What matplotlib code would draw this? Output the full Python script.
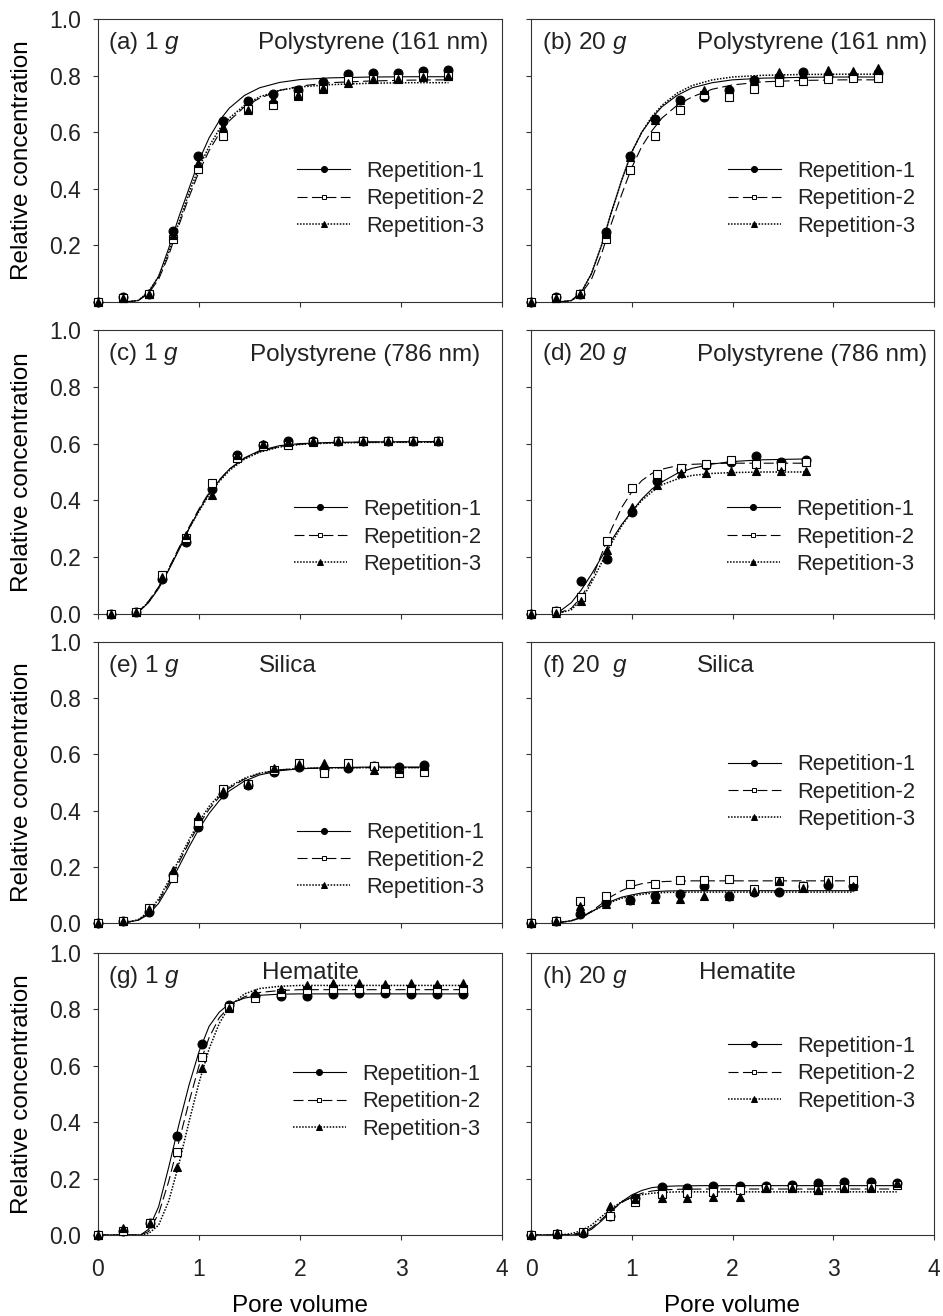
import matplotlib
matplotlib.use('Agg')
import matplotlib.pyplot as plt
from matplotlib.lines import Line2D

# ---- data (pore volume vs relative concentration) ----
# (a) 1 g, Polystyrene (161 nm)
a_pv = [0, 0.25, 0.5, 0.74, 0.99, 1.24, 1.49, 1.73, 1.98, 2.23, 2.48, 2.72, 2.97, 3.22, 3.47]
a_rep1 = [0, 0.018, 0.03, 0.25, 0.517, 0.641, 0.71, 0.736, 0.748, 0.779, 0.805, 0.808, 0.808, 0.817, 0.819]
a_rep2 = [0, 0.015, 0.03, 0.221, 0.47, 0.588, 0.683, 0.695, 0.728, 0.752, 0.783, 0.787, 0.793, 0.80, 0.80]
a_rep3 = [0, 0.015, 0.03, 0.237, 0.491, 0.618, 0.68, 0.716, 0.73, 0.757, 0.773, 0.787, 0.787, 0.796, 0.80]
a_fit_pv = [0.27, 0.4, 0.5, 0.6, 0.7, 0.8, 0.9, 1.0, 1.1, 1.2, 1.3, 1.45, 1.6, 1.8, 2.0, 2.3, 2.7, 3.1, 3.47]
a_fit1 = [0, 0.005, 0.035, 0.09, 0.19, 0.30, 0.40, 0.50, 0.58, 0.64, 0.685, 0.73, 0.757, 0.776, 0.786, 0.792, 0.795, 0.796, 0.796]
a_fit2 = [0, 0.005, 0.03, 0.08, 0.165, 0.27, 0.37, 0.46, 0.535, 0.595, 0.64, 0.69, 0.72, 0.748, 0.763, 0.775, 0.781, 0.784, 0.785]
a_fit3 = [0, 0.006, 0.035, 0.09, 0.175, 0.28, 0.385, 0.475, 0.55, 0.61, 0.65, 0.695, 0.725, 0.748, 0.76, 0.768, 0.773, 0.775, 0.775]

# (b) 20 g, Polystyrene (161 nm)
b_pv = [0, 0.25, 0.49, 0.74, 0.98, 1.23, 1.48, 1.72, 1.97, 2.21, 2.46, 2.70, 2.95, 3.20, 3.44]
b_rep1 = [0, 0.018, 0.03, 0.248, 0.516, 0.646, 0.715, 0.723, 0.75, 0.786, 0.795, 0.812, 0.80, 0.80, 0.81]
b_rep2 = [0, 0.015, 0.03, 0.221, 0.467, 0.587, 0.679, 0.73, 0.724, 0.753, 0.776, 0.78, 0.788, 0.792, 0.79]
b_rep3 = [0, 0.015, 0.03, 0.242, 0.514, 0.644, 0.715, 0.75, 0.752, 0.786, 0.812, 0.807, 0.821, 0.815, 0.827]
b_fit_pv = [0.27, 0.4, 0.5, 0.6, 0.7, 0.8, 0.9, 1.0, 1.1, 1.2, 1.3, 1.45, 1.6, 1.8, 2.0, 2.3, 2.7, 3.1, 3.44]
b_fit1 = [0, 0.005, 0.035, 0.1, 0.2, 0.32, 0.43, 0.53, 0.6, 0.65, 0.69, 0.73, 0.757, 0.775, 0.785, 0.791, 0.794, 0.795, 0.795]
b_fit2 = [0, 0.004, 0.03, 0.08, 0.17, 0.28, 0.38, 0.475, 0.55, 0.605, 0.65, 0.695, 0.725, 0.752, 0.767, 0.778, 0.783, 0.785, 0.785]
b_fit3 = [0, 0.005, 0.035, 0.1, 0.2, 0.32, 0.43, 0.53, 0.6, 0.655, 0.695, 0.738, 0.765, 0.785, 0.795, 0.801, 0.804, 0.805, 0.805]

# (c) 1 g, Polystyrene (786 nm)
c_pv = [0.125, 0.38, 0.63, 0.875, 1.13, 1.38, 1.63, 1.88, 2.13, 2.38, 2.62, 2.87, 3.12, 3.37]
c_rep1 = [0, 0.007, 0.125, 0.252, 0.44, 0.561, 0.596, 0.608, 0.61, 0.61, 0.61, 0.61, 0.61, 0.61]
c_rep2 = [0, 0.007, 0.139, 0.266, 0.461, 0.549, 0.593, 0.596, 0.604, 0.608, 0.608, 0.608, 0.608, 0.608]
c_rep3 = [0, 0.007, 0.131, 0.278, 0.42, 0.561, 0.60, 0.605, 0.608, 0.608, 0.608, 0.608, 0.608, 0.608]
c_fit_pv = [0.38, 0.5, 0.6, 0.7, 0.8, 0.9, 1.0, 1.1, 1.2, 1.3, 1.45, 1.6, 1.8, 2.0, 2.3, 2.7, 3.37]
c_fit1 = [0, 0.04, 0.09, 0.155, 0.225, 0.3, 0.365, 0.425, 0.47, 0.51, 0.55, 0.575, 0.593, 0.6, 0.604, 0.606, 0.607]
c_fit2 = [0, 0.045, 0.095, 0.16, 0.232, 0.305, 0.37, 0.428, 0.472, 0.51, 0.548, 0.572, 0.59, 0.598, 0.603, 0.605, 0.606]
c_fit3 = [0, 0.042, 0.092, 0.157, 0.228, 0.3, 0.362, 0.42, 0.466, 0.505, 0.545, 0.57, 0.588, 0.597, 0.602, 0.604, 0.605]

# (d) 20 g, Polystyrene (786 nm)
d_pv = [0, 0.25, 0.5, 0.75, 1.0, 1.25, 1.49, 1.74, 1.99, 2.23, 2.48, 2.73]
d_rep1 = [0, 0.01, 0.117, 0.192, 0.36, 0.467, 0.51, 0.525, 0.534, 0.558, 0.534, 0.543]
d_rep2 = [0, 0.01, 0.06, 0.258, 0.443, 0.492, 0.514, 0.528, 0.543, 0.529, 0.52, 0.535]
d_rep3 = [0, 0.005, 0.046, 0.225, 0.378, 0.455, 0.498, 0.496, 0.502, 0.502, 0.504, 0.505]
d_fit_pv = [0.25, 0.4, 0.5, 0.6, 0.7, 0.8, 0.9, 1.0, 1.1, 1.2, 1.3, 1.45, 1.6, 1.8, 2.0, 2.3, 2.73]
d_fit1 = [0, 0.04, 0.085, 0.14, 0.2, 0.26, 0.315, 0.36, 0.405, 0.44, 0.465, 0.495, 0.513, 0.528, 0.537, 0.543, 0.546]
d_fit2 = [0, 0.02, 0.06, 0.12, 0.21, 0.3, 0.375, 0.43, 0.47, 0.495, 0.51, 0.522, 0.527, 0.53, 0.531, 0.531, 0.531]
d_fit3 = [0, 0.015, 0.05, 0.11, 0.18, 0.25, 0.31, 0.36, 0.4, 0.43, 0.455, 0.475, 0.488, 0.495, 0.498, 0.5, 0.5]

# (e) 1 g, Silica
e_pv = [0, 0.25, 0.5, 0.745, 0.99, 1.24, 1.49, 1.74, 1.99, 2.24, 2.48, 2.73, 2.98, 3.23]
e_rep1 = [0, 0.006, 0.038, 0.172, 0.341, 0.46, 0.492, 0.536, 0.555, 0.548, 0.551, 0.557, 0.555, 0.561]
e_rep2 = [0, 0.006, 0.053, 0.16, 0.361, 0.476, 0.495, 0.545, 0.569, 0.533, 0.569, 0.557, 0.533, 0.539]
e_rep3 = [0, 0.006, 0.05, 0.19, 0.382, 0.468, 0.495, 0.551, 0.567, 0.569, 0.557, 0.545, 0.548, 0.557]
e_fit_pv = [0.25, 0.4, 0.5, 0.6, 0.7, 0.8, 0.9, 1.0, 1.1, 1.2, 1.3, 1.45, 1.6, 1.8, 2.0, 2.3, 2.7, 3.23]
e_fit1 = [0, 0.01, 0.03, 0.07, 0.13, 0.2, 0.27, 0.335, 0.39, 0.435, 0.47, 0.505, 0.527, 0.542, 0.549, 0.553, 0.555, 0.555]
e_fit2 = [0, 0.011, 0.035, 0.078, 0.14, 0.215, 0.285, 0.35, 0.405, 0.448, 0.48, 0.512, 0.532, 0.545, 0.55, 0.552, 0.553, 0.553]
e_fit3 = [0, 0.012, 0.04, 0.085, 0.15, 0.225, 0.295, 0.36, 0.415, 0.455, 0.485, 0.515, 0.533, 0.545, 0.55, 0.552, 0.553, 0.553]

# (f) 20 g, Silica
f_pv = [0, 0.25, 0.49, 0.74, 0.98, 1.23, 1.48, 1.72, 1.97, 2.21, 2.46, 2.70, 2.95, 3.20]
f_rep1 = [0, 0.006, 0.032, 0.073, 0.081, 0.097, 0.103, 0.133, 0.097, 0.109, 0.109, 0.13, 0.136, 0.13]
f_rep2 = [0, 0.006, 0.077, 0.095, 0.14, 0.14, 0.154, 0.152, 0.158, 0.121, 0.148, 0.133, 0.154, 0.152]
f_rep3 = [0, 0.006, 0.059, 0.069, 0.083, 0.085, 0.085, 0.095, 0.095, 0.113, 0.148, 0.124, 0.146, 0.13]
f_fit_pv = [0.25, 0.4, 0.5, 0.6, 0.7, 0.8, 0.9, 1.0, 1.1, 1.2, 1.35, 1.6, 2.0, 3.2]
f_fit1 = [0, 0.008, 0.02, 0.04, 0.06, 0.078, 0.092, 0.1, 0.107, 0.111, 0.114, 0.115, 0.115, 0.115]
f_fit2 = [0, 0.008, 0.02, 0.042, 0.068, 0.095, 0.115, 0.13, 0.14, 0.145, 0.148, 0.15, 0.15, 0.15]
f_fit3 = [0, 0.008, 0.02, 0.04, 0.058, 0.075, 0.088, 0.096, 0.102, 0.106, 0.109, 0.11, 0.11, 0.11]

# (g) 1 g, Hematite
g_pv = [0, 0.25, 0.51, 0.78, 1.03, 1.30, 1.55, 1.81, 2.07, 2.33, 2.58, 2.84, 3.10, 3.36, 3.61]
g_rep1 = [0, 0.015, 0.044, 0.352, 0.678, 0.814, 0.847, 0.847, 0.847, 0.856, 0.859, 0.859, 0.856, 0.853, 0.856]
g_rep2 = [0, 0.015, 0.044, 0.296, 0.632, 0.81, 0.841, 0.859, 0.868, 0.871, 0.873, 0.873, 0.873, 0.873, 0.873]
g_rep3 = [0, 0.024, 0.044, 0.24, 0.593, 0.806, 0.857, 0.871, 0.885, 0.892, 0.892, 0.89, 0.892, 0.89, 0.895]
g_fit_pv = [0, 0.42, 0.5, 0.6, 0.7, 0.8, 0.9, 1.0, 1.1, 1.2, 1.3, 1.45, 1.6, 1.8, 2.0, 3.61]
g_fit1 = [0, 0, 0.02, 0.1, 0.24, 0.39, 0.53, 0.65, 0.74, 0.79, 0.82, 0.84, 0.85, 0.854, 0.855, 0.855]
g_fit2 = [0, 0, 0.012, 0.075, 0.19, 0.33, 0.47, 0.6, 0.7, 0.77, 0.81, 0.845, 0.86, 0.867, 0.87, 0.87]
g_fit3 = [0, 0, 0.005, 0.035, 0.12, 0.25, 0.4, 0.54, 0.66, 0.75, 0.81, 0.855, 0.874, 0.882, 0.885, 0.885]

# (h) 20 g, Hematite
h_pv = [0, 0.26, 0.52, 0.78, 1.03, 1.30, 1.55, 1.81, 2.07, 2.33, 2.59, 2.85, 3.11, 3.37, 3.63]
h_rep1 = [0, 0.003, 0.008, 0.067, 0.13, 0.169, 0.165, 0.174, 0.174, 0.174, 0.177, 0.183, 0.189, 0.189, 0.186]
h_rep2 = [0, 0.003, 0.012, 0.067, 0.118, 0.145, 0.148, 0.154, 0.16, 0.165, 0.165, 0.16, 0.165, 0.171, 0.177]
h_rep3 = [0, 0.006, 0.012, 0.103, 0.126, 0.13, 0.13, 0.136, 0.136, 0.165, 0.165, 0.16, 0.165, 0.165, 0.183]
h_fit_pv = [0, 0.3, 0.4, 0.5, 0.6, 0.7, 0.8, 0.9, 1.0, 1.1, 1.2, 1.3, 1.45, 1.7, 3.63]
h_fit1 = [0, 0, 0, 0.003, 0.02, 0.05, 0.085, 0.118, 0.142, 0.158, 0.168, 0.172, 0.174, 0.175, 0.175]
h_fit2 = [0, 0, 0.002, 0.008, 0.025, 0.055, 0.088, 0.115, 0.135, 0.148, 0.156, 0.16, 0.162, 0.163, 0.163]
h_fit3 = [0, 0, 0.005, 0.015, 0.035, 0.065, 0.095, 0.118, 0.133, 0.143, 0.148, 0.151, 0.153, 0.153, 0.153]

panel_tags = ['(a) 1 $g$', '(b) 20 $g$', '(c) 1 $g$', '(d) 20 $g$',
              '(e) 1 $g$', '(f) 20  $g$', '(g) 1 $g$', '(h) 20 $g$']
materials = ['Polystyrene (161 nm)', 'Polystyrene (161 nm)',
             'Polystyrene (786 nm)', 'Polystyrene (786 nm)',
             'Silica', 'Silica', 'Hematite', 'Hematite']
rep_names = ['Repetition-1', 'Repetition-2', 'Repetition-3']

INK = '#222222'
plt.rcParams['font.family'] = ['Liberation Sans', 'DejaVu Sans']
plt.rcParams['mathtext.fontset'] = 'custom'
plt.rcParams['mathtext.rm'] = 'Liberation Sans'
plt.rcParams['mathtext.it'] = 'Liberation Sans:italic'
plt.rcParams['text.color'] = INK

W, H = 943, 1316
fig = plt.figure(figsize=(W / 100, H / 100), dpi=100)


def add_axes_px(x0, x1, y0, y1):
    return fig.add_axes([x0 / W, 1 - y1 / H, (x1 - x0) / W, (y1 - y0) / H])


cols = [(98, 502), (531, 934)]
rows = [(19, 302), (330, 614), (642, 923), (953, 1235)]

# styling per repetition: (linestyle, linewidth, marker, facecolor, size)
styles = [('-', 0.8, 'o', 'black', 6.4),
          ((0, (9, 4)), 0.8, 's', 'white', 5.2),
          ((0, (1.0, 1.0)), 1.1, '^', 'black', 6.4)]

# text / legend positions in axes fraction
title_pos = [(0.965, 0.915, 'right'), (0.983, 0.915, 'right'),
             (0.946, 0.912, 'right'), (0.983, 0.912, 'right'),
             (0.47, 0.915, 'center'), (0.484, 0.915, 'center'),
             (0.525, 0.93, 'center'), (0.536, 0.93, 'center')]
legend_pos = [(0.493, 0.364), (0.489, 0.364), (0.485, 0.271), (0.486, 0.271),
              (0.493, 0.224), (0.489, 0.466), (0.483, 0.472), (0.489, 0.571)]

panels = [
    (a_pv, [a_rep1, a_rep2, a_rep3], a_fit_pv, [a_fit1, a_fit2, a_fit3]),
    (b_pv, [b_rep1, b_rep2, b_rep3], b_fit_pv, [b_fit1, b_fit2, b_fit3]),
    (c_pv, [c_rep1, c_rep2, c_rep3], c_fit_pv, [c_fit1, c_fit2, c_fit3]),
    (d_pv, [d_rep1, d_rep2, d_rep3], d_fit_pv, [d_fit1, d_fit2, d_fit3]),
    (e_pv, [e_rep1, e_rep2, e_rep3], e_fit_pv, [e_fit1, e_fit2, e_fit3]),
    (f_pv, [f_rep1, f_rep2, f_rep3], f_fit_pv, [f_fit1, f_fit2, f_fit3]),
    (g_pv, [g_rep1, g_rep2, g_rep3], g_fit_pv, [g_fit1, g_fit2, g_fit3]),
    (h_pv, [h_rep1, h_rep2, h_rep3], h_fit_pv, [h_fit1, h_fit2, h_fit3]),
]

for i, (pv, reps, fit_pv, fits) in enumerate(panels):
    r, c = divmod(i, 2)
    ax = add_axes_px(cols[c][0], cols[c][1], rows[r][0], rows[r][1])

    # fitted curves
    for k in range(3):
        ls, lw = styles[k][0], styles[k][1]
        ax.plot(fit_pv, fits[k], color='black', lw=lw, linestyle=ls)

    # observed points (squares first so filled markers sit on top)
    for k in [1, 0, 2]:
        ls, lw, mk, fc, ms = styles[k]
        ax.plot(pv, reps[k], linestyle='none', marker=mk, ms=ms,
                mfc=fc, mec='black', mew=0.8, clip_on=False, zorder=3 + k)

    ax.set_xlim(0, 4)
    ax.set_ylim(0, 1.0)
    ax.set_xticks([0, 1, 2, 3, 4])
    ax.set_yticks([0, 0.2, 0.4, 0.6, 0.8, 1.0])
    ax.tick_params(direction='out', length=3.5, width=0.8, color='#333333',
                   labelsize=16.5, labelcolor=INK)
    ax.tick_params(axis='y', pad=9)
    ax.tick_params(axis='x', pad=13)
    for sp in ax.spines.values():
        sp.set_linewidth(0.8)
        sp.set_color('#333333')

    if c == 0:
        if r == 0:
            ax.set_yticklabels(['', '0.2', '0.4', '0.6', '0.8', '1.0'])
        else:
            ax.set_yticklabels(['0.0', '0.2', '0.4', '0.6', '0.8', '1.0'])
        ax.set_ylabel('Relative concentration', fontsize=17.5)
        ax.yaxis.set_label_coords(-0.16, 0.5)
    else:
        ax.set_yticklabels([])

    if r == 3:
        ax.set_xlabel('Pore volume', fontsize=17.5, labelpad=10)
    else:
        ax.set_xticklabels([])

    ax.text(0.025 if c == 0 else 0.027, 0.915, panel_tags[i], transform=ax.transAxes,
            fontsize=17.5, ha='left', va='center')
    tx, ty, tha = title_pos[i]
    ax.text(tx, ty, materials[i], transform=ax.transAxes,
            fontsize=17.5, ha=tha, va='center')

    handles = []
    for k in range(3):
        ls, lw, mk, fc, ms = styles[k]
        handles.append(Line2D([], [], color='black', lw=lw, linestyle=ls,
                              marker=mk, ms=ms * 0.68, mfc=fc, mec='black', mew=0.7))
    lx, ly = legend_pos[i]
    ax.legend(handles, rep_names, loc='center left', bbox_to_anchor=(lx, ly),
              frameon=False, fontsize=15.8, handlelength=2.4, handletextpad=0.75,
              labelspacing=0.29, borderpad=0, borderaxespad=0)

fig.savefig('out.png', dpi=100)
